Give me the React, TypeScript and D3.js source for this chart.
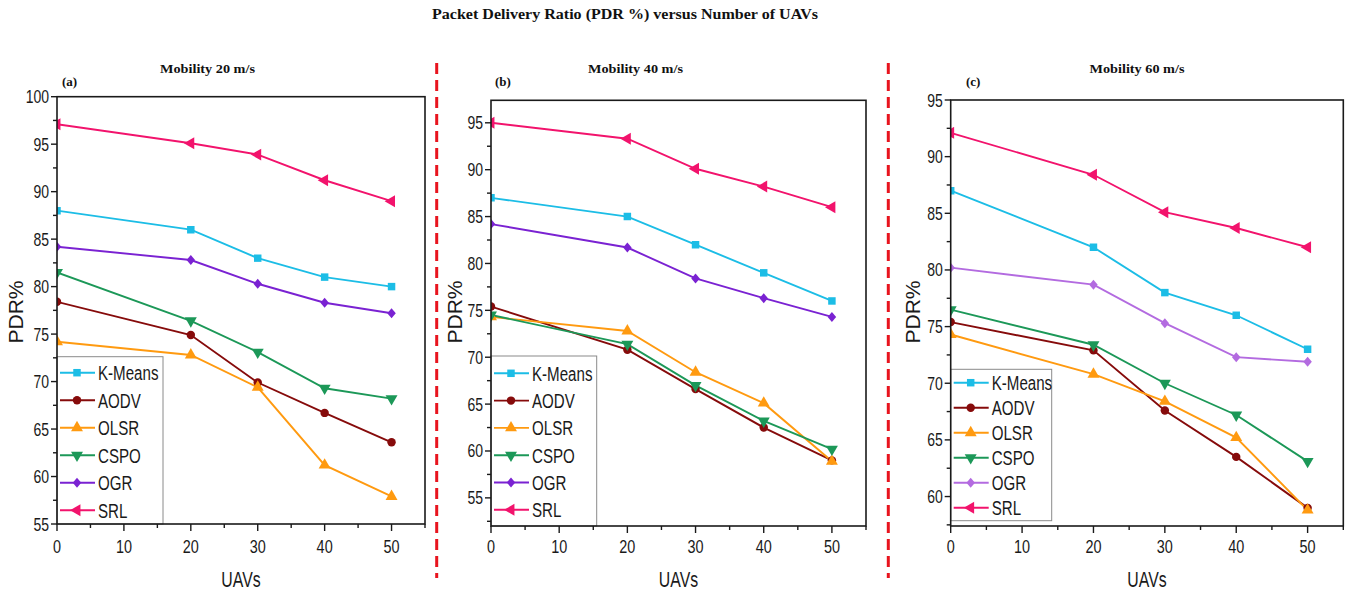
import React from 'react';
import * as d3 from 'd3';

const W = 1363;
const H = 596;

const uavs = [0, 20, 30, 40, 50];
const protocols = ['K-Means', 'AODV', 'OLSR', 'CSPO', 'OGR', 'SRL'];

// Mobility 20 m/s
const kmeans20 = [88.0, 86.0, 83.0, 81.0, 80.0];
const aodv20 = [78.4, 74.9, 69.9, 66.7, 63.6];
const olsr20 = [74.2, 72.8, 69.4, 61.2, 57.9];
const cspo20 = [81.5, 76.4, 73.1, 69.3, 68.2];
const ogr20 = [84.2, 82.8, 80.3, 78.3, 77.2];
const srl20 = [97.1, 95.1, 93.9, 91.2, 89.0];

// Mobility 40 m/s
const kmeans40 = [87.0, 85.0, 82.0, 79.0, 76.0];
const aodv40 = [75.4, 70.8, 66.6, 62.5, 59.0];
const olsr40 = [74.3, 72.8, 68.4, 65.1, 58.9];
const cspo40 = [74.5, 71.4, 67.0, 63.2, 60.2];
const ogr40 = [84.2, 81.7, 78.4, 76.3, 74.3];
const srl40 = [95.0, 93.3, 90.1, 88.2, 86.0];

// Mobility 60 m/s
const kmeans60 = [87.0, 82.0, 78.0, 76.0, 73.0];
const aodv60 = [75.4, 72.9, 67.6, 63.5, 59.0];
const olsr60 = [74.3, 70.8, 68.4, 65.2, 58.8];
const cspo60 = [76.5, 73.4, 70.0, 67.2, 63.1];
const ogr60 = [80.2, 78.7, 75.3, 72.3, 71.9];
const srl60 = [92.1, 88.4, 85.1, 83.7, 82.0];

const colors = ['#1cbde6', '#860b0b', '#ff9a10', '#1c9858', '#7a22d2', '#f2136c'];
const ogrLight = '#b36be0';
const markers = ['square', 'circle', 'triangleUp', 'triangleDown', 'diamond', 'triangleLeft'];

const SANS = '"Liberation Sans", Arial, sans-serif';
const SERIF = '"Liberation Serif", "Times New Roman", serif';

const panels = [
  {
    id: 'a', title: 'Mobility 20 m/s', letter: '(a)',
    box: [57, 96.7, 425, 524], yDomain: [55, 100],
    series: [kmeans20, aodv20, olsr20, cspo20, ogr20, srl20],
    ogrColor: colors[4],
    titleX: 207.5, letterX: 62, ylabX: 22.7,
    legend: { top: 356.7, bottom: 524, width: 106, row0: 372.7, step: 27.5 },
  },
  {
    id: 'b', title: 'Mobility 40 m/s', letter: '(b)',
    box: [491, 100.3, 866, 526], yDomain: [52, 97.4],
    series: [kmeans40, aodv40, olsr40, cspo40, ogr40, srl40],
    ogrColor: colors[4],
    titleX: 635.5, letterX: 495, ylabX: 462,
    legend: { top: 356, bottom: 526, width: 105.7, row0: 373.3, step: 27.3 },
  },
  {
    id: 'c', title: 'Mobility 60 m/s', letter: '(c)',
    box: [950.7, 100, 1343.3, 526], yDomain: [57.4, 95],
    series: [kmeans60, aodv60, olsr60, cspo60, ogr60, srl60],
    ogrColor: ogrLight,
    titleX: 1137, letterX: 966, ylabX: 920,
    legend: { top: 369.3, bottom: 520.7, width: 101, row0: 382.7, step: 25 },
  },
];

function symbolPath(m: string) {
  if (m === 'square') return d3.symbol(d3.symbolSquare, 56)() as string;
  if (m === 'circle') return d3.symbol(d3.symbolCircle, 56)() as string;
  if (m === 'diamond') return d3.symbol(d3.symbolSquare, 50)() as string;
  return d3.symbol(d3.symbolTriangle, 62)() as string;
}

function symbolTransform(m: string, x: number, y: number) {
  if (m === 'triangleDown') return `translate(${x},${y}) rotate(180)`;
  if (m === 'triangleLeft') return `translate(${x},${y}) rotate(-90)`;
  if (m === 'diamond') return `translate(${x},${y}) scale(0.85,1) rotate(45)`;
  return `translate(${x},${y})`;
}

// narrow text (the source figure is squeezed horizontally)
function Sq({ x, y, size, sx = 0.78, anchor = 'start', children }: any) {
  return (
    <text transform={`translate(${x},${y}) scale(${sx},1)`} fontSize={size} textAnchor={anchor}
      fontFamily={SANS} fill="#1a1a1a">{children}</text>
  );
}

function Panel({ p }: any) {
  const [x0, y0, x1, y1] = p.box;
  const x = d3.scaleLinear().domain([0, 55]).range([x0, x1]);
  const y = d3.scaleLinear().domain(p.yDomain).range([y1, y0]);
  const line = d3.line<number>().x((_, i) => x(uavs[i])).y(d => y(d));
  const xTicks = d3.range(0, 56, 5);
  const yTicks = d3.range(Math.ceil(p.yDomain[0] / 2.5) * 2.5, p.yDomain[1] + 0.01, 2.5);
  const clipId = `clip-${p.id}`;
  const lg = p.legend;
  const colorOf = (i: number) => (i === 4 ? p.ogrColor : colors[i]);

  return (
    <g>
      <defs>
        <clipPath id={clipId}>
          <rect x={x0} y={y0} width={x1 - x0} height={y1 - y0} />
        </clipPath>
      </defs>

      <text x={p.titleX} y={73} textAnchor="middle" fontFamily={SERIF} fontWeight="bold" fontSize={13}
        textLength={95} lengthAdjust="spacingAndGlyphs" fill="#111">{p.title}</text>
      <text x={p.letterX} y={86} fontFamily={SERIF} fontWeight="bold" fontSize={13} fill="#111">{p.letter}</text>

      <g clipPath={`url(#${clipId})`}>
        {p.series.map((s: number[], i: number) => (
          <path key={`l${i}`} d={line(s) as string} fill="none" stroke={colorOf(i)} strokeWidth={1.9} />
        ))}
        {p.series.map((s: number[], i: number) =>
          s.map((v, j) => (
            <path key={`m${i}-${j}`} d={symbolPath(markers[i])}
              transform={symbolTransform(markers[i], x(uavs[j]), y(v))} fill={colorOf(i)} />
          ))
        )}
      </g>

      {/* legend */}
      <rect x={x0} y={lg.top} width={lg.width} height={lg.bottom - lg.top} fill="#fff" stroke="#8a8a8a" strokeWidth={1} />
      {protocols.map((name, i) => {
        const cy = lg.row0 + i * lg.step;
        return (
          <g key={name}>
            <line x1={x0 + 3} x2={x0 + 38} y1={cy} y2={cy} stroke={colorOf(i)} strokeWidth={1.9} />
            <path d={symbolPath(markers[i])} transform={symbolTransform(markers[i], x0 + 20, cy)} fill={colorOf(i)} />
            <Sq x={x0 + 41} y={cy + 7.5} size={21} sx={0.72}>{name}</Sq>
          </g>
        );
      })}

      {/* frame */}
      <rect x={x0} y={y0} width={x1 - x0} height={y1 - y0} fill="none" stroke="#1a1a1a" strokeWidth={1.6} />

      {/* x axis ticks */}
      {xTicks.map(t => (
        <g key={`xt${t}`}>
          <line x1={x(t)} x2={x(t)} y1={y1} y2={y1 + (t % 10 === 0 ? 7 : 4)} stroke="#1a1a1a" strokeWidth={1.4} />
          {t % 10 === 0 && t <= 50 && (
            <Sq x={x(t)} y={553} size={19} sx={0.76} anchor="middle">{t}</Sq>
          )}
        </g>
      ))}

      {/* y axis ticks */}
      {yTicks.map(t => {
        const major = Math.abs(t % 5) < 0.01;
        return (
          <g key={`yt${t}`}>
            <line x1={x0} x2={x0 - (major ? 6 : 4)} y1={y(t)} y2={y(t)} stroke="#1a1a1a" strokeWidth={1.4} />
            {major && (
              <Sq x={x0 - 8} y={y(t) + 6.5} size={17.5} sx={0.8} anchor="end">{t}</Sq>
            )}
          </g>
        );
      })}

      <Sq x={(x0 + x1) / 2} y={587} size={22} sx={0.72} anchor="middle">UAVs</Sq>
      <text transform={`translate(${p.ylabX},312) rotate(-90)`} fontSize={21} textAnchor="middle"
        fontFamily={SANS} fill="#1a1a1a">PDR%</text>
    </g>
  );
}

export default function App() {
  return (
    <svg width={W} height={H} viewBox={`0 0 ${W} ${H}`}
      style={{ position: 'absolute', left: 0, top: 0, background: '#fff', display: 'block' }}>
      <rect x={0} y={0} width={W} height={H} fill="#fff" />
      <text x={625} y={19} textAnchor="middle" fontFamily={SERIF} fontWeight="bold" fontSize={15}
        textLength={386} lengthAdjust="spacingAndGlyphs" fill="#111">
        Packet Delivery Ratio (PDR %) versus Number of UAVs
      </text>
      {[436.7, 888.3].map(xv => (
        <line key={xv} x1={xv} x2={xv} y1={63} y2={578} stroke="#e8141e" strokeWidth={3}
          strokeDasharray="11 6" />
      ))}
      {panels.map(p => <Panel key={p.id} p={p} />)}
    </svg>
  );
}
